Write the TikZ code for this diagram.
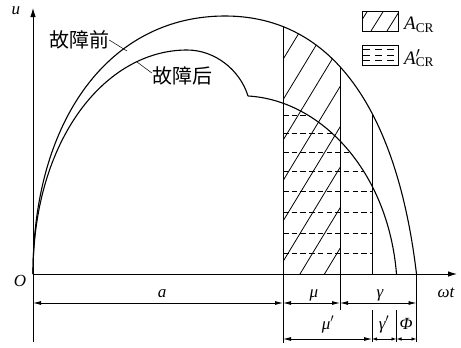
\documentclass[tikz,border=0pt]{standalone}
\usepackage{fontspec}
\setmainfont{Liberation Serif}
\newfontfamily\cjk{Noto Sans CJK SC}
\usetikzlibrary{arrows.meta,positioning}

\def\outercurve{(33,274) .. controls (33,119) and (110,16) .. (225,16) .. controls (337,16) and (398,118) .. (416.5,274)}
\def\innerfirst{(33,274) .. controls (33,140) and (105,50) .. (187,50) .. controls (215,50) and (240,70) .. (248,96)}
\def\innersecond{(248,96) .. controls (320,100) and (388,170) .. (396.5,274)}

\begin{document}
\begin{tikzpicture}[
x=1pt,y=-1pt,
curve/.style={line width=1.1pt},
thinline/.style={line width=0.9pt},
hatch/.style={line width=0.8pt},
dashline/.style={line width=0.8pt,dash pattern=on 5.5pt off 3.2pt},
leader/.style={line width=0.5pt},
axis/.style={line width=0.9pt,-{Latex[length=9pt,width=5.5pt]}},
dim/.style={line width=0.8pt,{Latex[length=8pt,width=4pt]}-{Latex[length=8pt,width=4pt]}},
smalldim/.style={line width=0.8pt,{Latex[length=5pt,width=3.5pt]}-{Latex[length=5pt,width=3.5pt]}},
lbl/.style={font=\fontsize{17}{17}\selectfont\itshape,inner sep=0pt,anchor=base},
legendlbl/.style={font=\fontsize{19}{19}\selectfont\itshape,inner sep=0pt,anchor=base west},
cjklabel/.style={font=\fontsize{20}{20}\selectfont\cjk,inner sep=0pt}
]

\useasboundingbox (0,0) rectangle (461,348);

\coordinate (O) at (33,274);
\coordinate (xend) at (457,274);
\coordinate (ytop) at (33,8);
\coordinate (ybot) at (33,342);

\begin{scope}
\clip (283,0) rectangle (340,274);
\clip \outercurve -- cycle;
\foreach \x in {79.5,104,...,360}
  \draw[hatch] (\x,274) -- ++(166,-274);
\end{scope}

\begin{scope}
\clip (283,0) rectangle (372,274);
\clip \innersecond -- (248,274) -- cycle;
\foreach \y in {115,133,152,171,191,212,233,253}
  \draw[dashline] (283,\y) -- (372,\y);
\end{scope}

\begin{scope}
\clip \outercurve -- cycle;
\draw[thinline] (283,0) -- (283,274);
\draw[thinline] (340,0) -- (340,274);
\draw[thinline] (372,0) -- (372,274);
\end{scope}

\draw[curve] \outercurve;
\draw[curve] \innerfirst;
\draw[curve] \innersecond;

\draw[axis] (O) -- (xend);
\draw[axis] (ybot) -- (ytop);

\draw[thinline] (283,274) -- (283,343);
\draw[thinline] (340,274) -- (340,310);
\draw[thinline] (372,310) -- (372,342);
\draw[thinline] (396.5,310) -- (396.5,342);
\draw[thinline] (416.5,274) -- (416.5,342);

\coordinate (d1) at (33,303);
\coordinate (d2) at (283,303);
\coordinate (d3) at (340,303);
\coordinate (d4) at (416.5,303);
\coordinate (e1) at (283,339);
\coordinate (e2) at (372,339);
\coordinate (e3) at (396.5,339);
\coordinate (e4) at (416.5,339);

\draw[dim] (d1) -- (d2);
\draw[dim] (d2) -- (d3);
\draw[dim] (d3) -- (d4);
\draw[dim] (e1) -- (e2);
\draw[smalldim] (e2) -- (e3);
\draw[smalldim] (e3) -- (e4);

\node[lbl] (ulabel) at (16,15) {u};
\node[lbl] (olabel) at (20,286) {O};
\node[lbl] (alabel) at (162,297) {a};
\node[lbl] (mulabel) at (314,297) {μ};
\node[lbl] (gammalabel) at (380,297) {γ};
\node[lbl] (wtlabel) at (446,297) {ωt};
\node[lbl] (mu2label) at (328,329) {μ$'$};
\node[lbl] (gamma2label) at (384,329) {γ$'$};
\node[lbl] (philabel) at (406,329) {Φ};

\node[cjklabel] (before) at (79,40) {故障前};
\node[cjklabel] (after) at (182,76) {故障后};
\draw[leader] (before.east) -- (127,51);
\draw[leader] (137,62) -- ([yshift=3pt]after.west);

\begin{scope}
\clip (362,11) rectangle (398,31);
\foreach \x in {339,355,...,403}
  \draw[hatch] (\x,31) -- ++(32,-51.2);
\end{scope}
\draw[thinline] (362,11) rectangle (398,31);
\foreach \y in {49.5,55,60.5}
  \draw[hatch,dash pattern=on 6.5pt off 5.5pt] (363,\y) -- (398,\y);
\draw[thinline] (362,45) rectangle (398,65);

\node[legendlbl] (acr) at (404,30) {A\textsubscript{\upshape CR}};
\node[legendlbl] (acr2) at (404,64) {A\rlap{$'$}\textsubscript{\upshape CR}};

\end{tikzpicture}
\end{document}
